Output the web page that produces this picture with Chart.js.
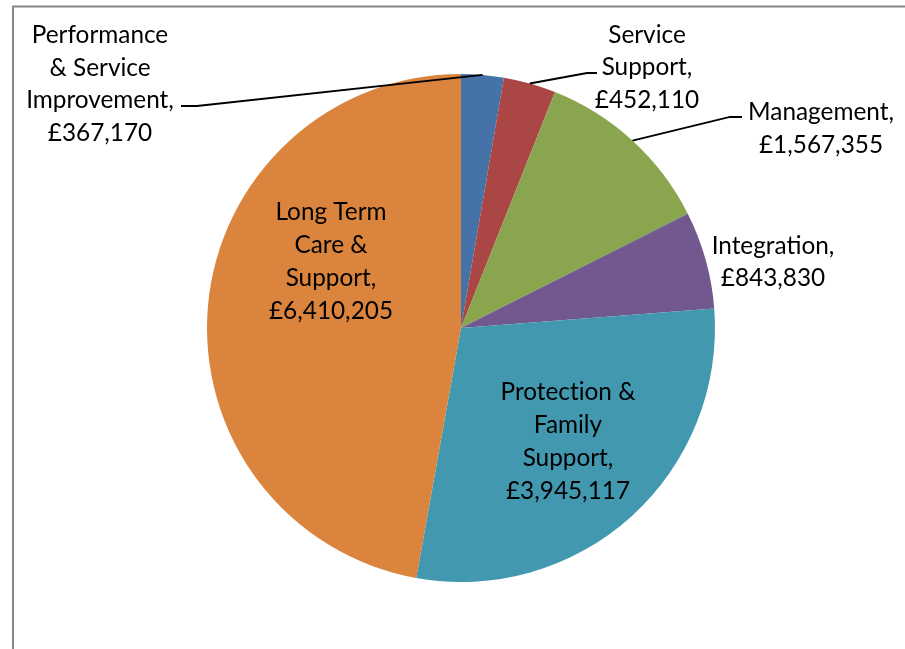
<!DOCTYPE html>
<html>
<head>
<meta charset="utf-8">
<script src="https://cdn.jsdelivr.net/npm/chart.js@4.4.1/dist/chart.umd.min.js"></script>
<style>
html,body{margin:0;padding:0;background:#fff;}
#wrap{width:905px;height:649px;position:relative;}
</style>
</head>
<body>
<div id="wrap"><canvas id="c" width="905" height="649"></canvas></div>
<script>
const categories = ["Performance & Service Improvement","Service Support","Management","Integration","Protection & Family Support","Long Term Care & Support"];
const values = [367170, 452110, 1567355, 843830, 3945117, 6410205];
const labelLines = [
  ["Performance","& Service","Improvement,","£367,170"],
  ["Service","Support,","£452,110"],
  ["Management,","£1,567,355"],
  ["Integration,","£843,830"],
  ["Protect\u200Cion &","Family","Support,","£3,945,117"],
  ["Long Term","Care &","Support,","£6,410,205"]
];
const colors = ["#4572A7","#AA4643","#89A54E","#71588F","#4198AF","#DB843D"];

// label layout: centre x, first baseline, line step
const labelPos = [
  {x:100, y:43, step:32.6},
  {x:647, y:42.5, step:32.8},
  {x:821, y:120, step:32.8},
  {x:773, y:253.5, step:32.8},
  {x:568, y:399.5, step:33},
  {x:331, y:219.5, step:33}
];
// leader lines: elbow and end points (start is arc edge at mid-angle)
const leaders = {
  0: [[197,106],[181,106]],
  1: [[587,73],[597,73]],
  2: [[730,117],[742,117]]
};

const FONT = "Lato, 'Open Sans', sans-serif";

const labelPlugin = {
  id: 'labels',
  afterDatasetsDraw(chart){
    const ctx = chart.ctx;
    const meta = chart.getDatasetMeta(0);
    ctx.save();
    ctx.font = "24px " + FONT;
    const w = ctx.measureText("Performance").width;
    const fs = 24 * 136.5 / w;
    ctx.font = fs.toFixed(2) + "px " + FONT;
    ctx.fillStyle = "#000";
    ctx.textAlign = "center";
    ctx.textBaseline = "alphabetic";
    labelLines.forEach((lines, i) => {
      const p = labelPos[i];
      lines.forEach((t, j) => ctx.fillText(t, p.x, p.y + j * p.step));
    });
    ctx.strokeStyle = "#000";
    ctx.lineWidth = 1.8;
    Object.keys(leaders).forEach(k => {
      const arc = meta.data[k];
      const mid = (arc.startAngle + arc.endAngle) / 2;
      const sx = arc.x + Math.cos(mid) * arc.outerRadius;
      const sy = arc.y + Math.sin(mid) * arc.outerRadius;
      ctx.beginPath();
      ctx.moveTo(sx, sy);
      leaders[k].forEach(pt => ctx.lineTo(pt[0], pt[1]));
      ctx.stroke();
    });
    ctx.restore();
  },
  beforeDraw(chart){
    const ctx = chart.ctx;
    ctx.save();
    ctx.fillStyle = "#fff";
    ctx.fillRect(0,0,chart.width,chart.height);
    ctx.strokeStyle = "#868686";
    ctx.lineWidth = 2;
    ctx.beginPath();
    ctx.moveTo(13, chart.height + 2);
    ctx.lineTo(13, 6.5);
    ctx.lineTo(chart.width + 2, 6.5);
    ctx.stroke();
    ctx.restore();
  }
};

new Chart(document.getElementById('c'), {
  type: 'pie',
  data: {
    labels: categories,
    datasets: [{
      data: values,
      backgroundColor: colors,
      borderWidth: 0
    }]
  },
  options: {
    responsive: false,
    animation: false,
    layout: { padding: { left: 207, right: 190, top: 74, bottom: 67 } },
    plugins: { legend: { display: false }, tooltip: { enabled: false } }
  },
  plugins: [labelPlugin]
});
</script>
</body>
</html>
